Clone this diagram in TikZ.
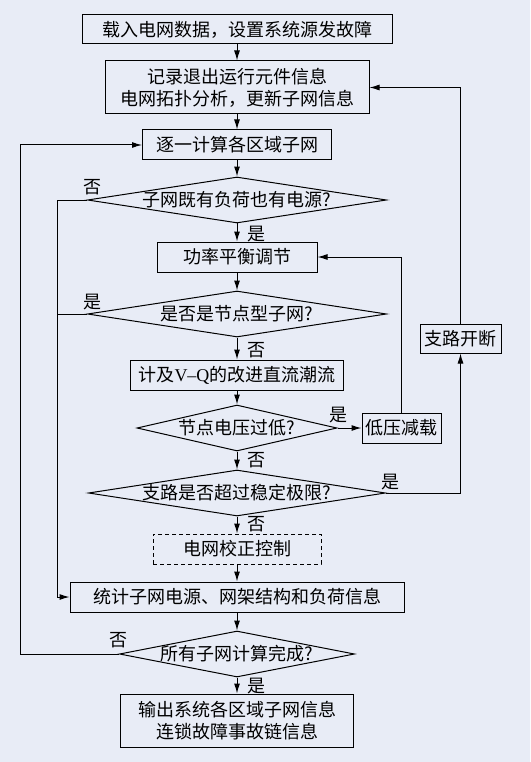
\documentclass[tikz,border=0pt]{standalone}
\usepackage{fontspec}
\setmainfont{Liberation Serif}
\newfontfamily\cjk{Noto Sans CJK SC}
\usetikzlibrary{shapes.geometric,arrows.meta}

\definecolor{bgtop}{HTML}{E8ECF6}
\definecolor{bgmid}{HTML}{FAFAFC}

\tikzset{
  box/.style={draw, rectangle, inner sep=0pt, align=center},
  dec/.style={draw, diamond, inner sep=0pt},
  arr/.style={-{Latex[length=10pt,width=6pt]}},
}

\begin{document}
\begin{tikzpicture}[x=1pt,y=-1pt,line width=1pt,font=\cjk\fontsize{18}{22}\selectfont]
  % fundal
  \shade[top color=bgtop, middle color=bgmid, bottom color=bgtop] (0,0) rectangle (530,762);
  \useasboundingbox (0,0) rectangle (530,762);

  % casetele
  \node[box, minimum width=310pt, minimum height=29pt] (load) at (237,29.5) {载入电网数据，设置系统源发故障};
  \node[box, minimum width=264pt, minimum height=53pt] (topo) at (237,87.5) {记录退出运行元件信息\\电网拓扑分析，更新子网信息};
  \node[box, minimum width=189pt, minimum height=30pt] (calc) at (237,145) {逐一计算各区域子网};
  \node[box, minimum width=160pt, minimum height=30pt] (balance) at (237,257) {功率平衡调节};
  \node[box, minimum width=213pt, minimum height=30pt] (flow) at (237,375) {计及{\rmfamily V--Q}的改进直流潮流};
  \node[box, minimum width=79pt, minimum height=30pt] (shed) at (401.5,428) {低压减载};
  \node[box, minimum width=81pt, minimum height=29pt] (cut) at (460.5,338.5) {支路开断};
  \node[box, dash pattern=on 4pt off 3pt, minimum width=168pt, minimum height=30pt] (correct) at (237,549) {电网校正控制};
  \node[box, minimum width=334pt, minimum height=30pt] (stat) at (237,597) {统计子网电源、网架结构和负荷信息};
  \node[box, minimum width=233pt, minimum height=53pt] (output) at (237,720.5) {输出系统各区域子网信息\\连锁故障事故链信息};

  % romburile
  \node[dec, minimum width=299pt, minimum height=46pt] (both) at (237,200) {\makebox[0pt]{子网既有负荷也有电源?}};
  \node[dec, minimum width=299pt, minimum height=46pt] (nodetype) at (237,314) {\makebox[0pt]{是否是节点型子网?}};
  \node[dec, minimum width=200pt, minimum height=46pt] (lowv) at (237,428) {\makebox[0pt]{节点电压过低?}};
  \node[dec, minimum width=297pt, minimum height=46pt] (limit) at (237,493) {\makebox[0pt]{支路是否超过稳定极限?}};
  \node[dec, minimum width=235pt, minimum height=46pt] (done) at (237,654) {\makebox[0pt]{所有子网计算完成?}};

  % etichetele
  \node (bothno) at (92,187) {否};
  \node (bothyes) at (256,234) {是};
  \node (typeyes) at (92,302) {是};
  \node (typeno) at (256,350) {否};
  \node (lowyes) at (338,415) {是};
  \node (lowno) at (256,460) {否};
  \node (limyes) at (390,482) {是};
  \node (limno) at (256,524) {否};
  \node (doneno) at (118,640) {否};
  \node (doneyes) at (256,686) {是};

  % coloanele de retur
  \coordinate (inner) at (57,0);
  \coordinate (outer) at (20,0);

  % sagetile principale
  \draw[arr] (load) -- (topo);
  \draw[arr] (topo) -- (calc);
  \draw[arr] (calc) -- (both);
  \draw[arr] (both) -- (balance);
  \draw[arr] (balance) -- (nodetype);
  \draw[arr] (nodetype) -- (flow);
  \draw[arr] (flow) -- (lowv);
  \draw[arr] (lowv) -- (shed);
  \draw[arr] (lowv) -- (limit);
  \draw[arr] (limit) -- (correct);
  \draw[arr] (correct) -- (stat);
  \draw[arr] (stat) -- (done);
  \draw[arr] (done) -- (output);

  % bucle
  \draw[arr] (both.west) -- (both.west -| inner) |- (stat.west);
  \draw (nodetype.west) -- (nodetype.west -| inner);
  \draw[arr] (done.west) -- (done.west -| outer) |- (calc.west);
  \draw[arr] (shed.north) |- (balance.east);
  \draw[arr] (limit.east) -| (cut.south);
  \draw[arr] (cut.north) |- (topo.east);
\end{tikzpicture}
\end{document}
